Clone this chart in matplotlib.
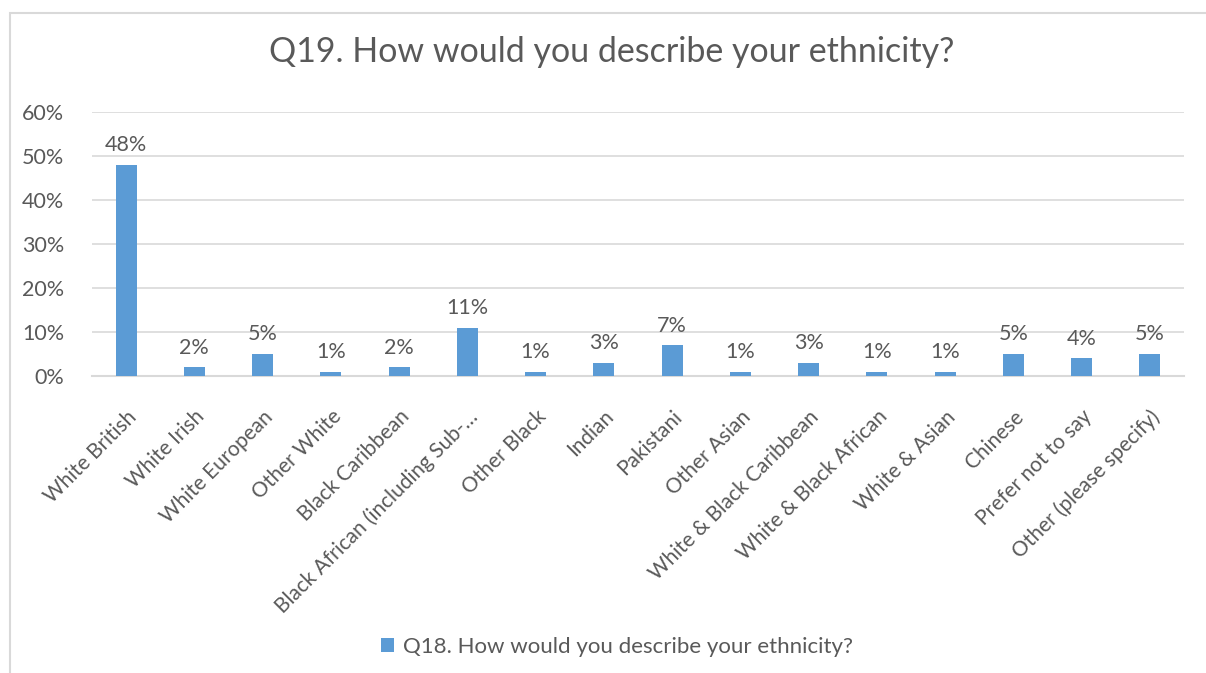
import matplotlib.pyplot as plt
from matplotlib.patches import Rectangle
from matplotlib.ticker import FuncFormatter

categories = ["White British", "White Irish", "White European", "Other White",
              "Black Caribbean", "Black African (including Sub-\u2026", "Other Black",
              "Indian", "Pakistani", "Other Asian", "White & Black Caribbean",
              "White & Black African", "White & Asian", "Chinese",
              "Prefer not to say", "Other (please specify)"]
values = [48, 2, 5, 1, 2, 11, 1, 3, 7, 1, 3, 1, 1, 5, 4, 5]
y_ticks = [0, 10, 20, 30, 40, 50, 60]
series_name = "Q18. How would you describe your ethnicity?"
title = "Q19. How would you describe your ethnicity?"

text_color = "#595959"
bar_color = "#5b9bd5"
grid_color = "#d9d9d9"

plt.rcParams['font.family'] = ['Lato', 'DejaVu Sans']

fig = plt.figure(figsize=(12.06, 6.73), dpi=100)
ax = fig.add_axes([92 / 1206, 1 - 376 / 673, (1184 - 92) / 1206, (376 - 112) / 673])

x = list(range(len(categories)))
bars = ax.bar(x, values, width=0.31, color=bar_color, label=series_name, zorder=3)
for xi, v in zip(x, values):
    ax.text(xi, v + 2.2, f"{v}%", ha='center', va='bottom', fontsize=15.5, color=text_color)

ax.set_xlim(-0.5, len(categories) - 0.5)
ax.set_ylim(0, 60)
ax.set_yticks(y_ticks)
ax.yaxis.set_major_formatter(FuncFormatter(lambda v, p: f"{v:.0f}%"))
ax.set_xticks(x)
ax.set_xticklabels(categories, rotation=45, ha='right', rotation_mode='anchor')
ax.tick_params(axis='both', length=0, labelsize=15, labelcolor=text_color)
ax.tick_params(axis='x', pad=22)
ax.tick_params(axis='y', labelsize=15.5, pad=20)
ax.grid(axis='y', color=grid_color, linewidth=1.2, zorder=0)
for s in ['top', 'right', 'left']:
    ax.spines[s].set_visible(False)
ax.spines['bottom'].set_color(grid_color)
ax.spines['bottom'].set_linewidth(1.5)

fig.text(612 / 1206, 1 - 52 / 673, title, ha='center', va='center', fontsize=24.5, color=text_color)

leg = fig.legend(handles=[bars], labels=[series_name], loc='center',
                 bbox_to_anchor=(617 / 1206, 1 - 647 / 673), frameon=False,
                 fontsize=16, handlelength=0.6, handleheight=0.6, handletextpad=0.4)
for t in leg.get_texts():
    t.set_color(text_color)

# chart border (extends past right/bottom edges as in the source)
fig.patches.append(Rectangle((10 / 1206, -0.1), 1.2, 1 - 13 / 673 + 0.1,
                             transform=fig.transFigure, fill=False,
                             edgecolor=grid_color, linewidth=1.5))

fig.savefig("out.png", dpi=100)
